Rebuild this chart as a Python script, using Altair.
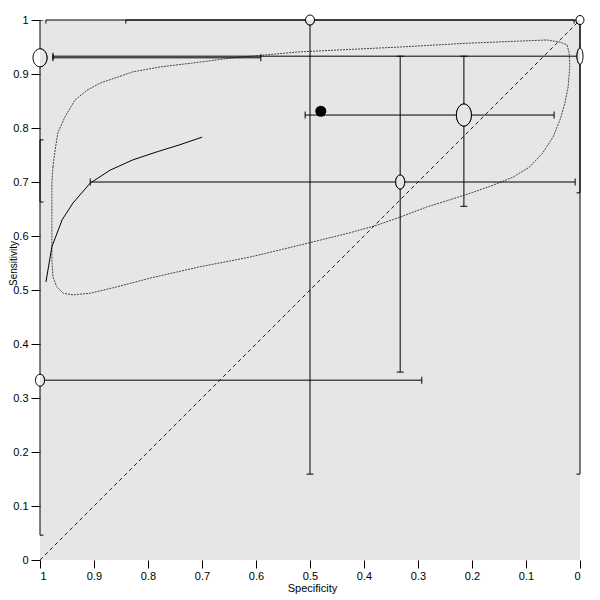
import altair as alt
import pandas as pd

# ---- individual studies (specificity, sensitivity, 95% CIs) ----
study_spec = [1.0, 0.5, 0.0, 0.0, 0.215, 0.333, 1.0]
study_sens = [0.930, 1.0, 1.0, 0.933, 0.824, 0.700, 0.333]
spec_lo = [0.591, 0.011, 0.0, 0.0, 0.048, 0.009, 0.293]
spec_hi = [0.976, 0.989, 0.841, 0.976, 0.509, 0.907, 1.0]
sens_lo = [0.663, 0.159, 0.159, 0.680, 0.655, 0.348, 0.046]
sens_hi = [1.0, 1.0, 1.0, 1.0, 0.933, 0.933, 0.778]
# marker (ellipse) width / height in px, proportional to study size
marker_w = [14, 9, 8, 6, 15, 9, 9]
marker_h = [18, 10, 9, 16, 22, 14, 12]

# ---- summary point ----
sum_spec = [0.480]
sum_sens = [0.831]

# ---- SROC curve ----
sroc_spec = [0.989, 0.978, 0.959, 0.939, 0.907, 0.870, 0.828, 0.783, 0.741, 0.700]
sroc_sens = [0.515, 0.580, 0.630, 0.661, 0.698, 0.722, 0.741, 0.756, 0.769, 0.783]

# ---- confidence region contour ----
ctr_spec = [0.976, 0.972, 0.967, 0.954, 0.935, 0.913, 0.889, 0.857, 0.828, 0.778,
            0.704, 0.643, 0.519, 0.333, 0.209, 0.061, 0.037, 0.024, 0.020, 0.019,
            0.022, 0.028, 0.037, 0.050, 0.069, 0.093, 0.124, 0.161, 0.198, 0.241,
            0.283, 0.333, 0.376, 0.426, 0.519, 0.611, 0.704, 0.796, 0.857, 0.907,
            0.939, 0.957, 0.969, 0.976, 0.978, 0.978, 0.978, 0.976]
ctr_sens = [0.728, 0.759, 0.791, 0.820, 0.852, 0.870, 0.883, 0.894, 0.904, 0.913,
            0.922, 0.930, 0.941, 0.950, 0.957, 0.963, 0.959, 0.954, 0.939, 0.913,
            0.876, 0.846, 0.815, 0.783, 0.754, 0.728, 0.709, 0.694, 0.681, 0.667,
            0.654, 0.635, 0.620, 0.606, 0.583, 0.561, 0.543, 0.522, 0.506, 0.494,
            0.491, 0.494, 0.506, 0.524, 0.556, 0.635, 0.698, 0.728]

# ---- diagonal ----
diag_spec = [1.0, 0.0]
diag_sens = [0.0, 1.0]

tick_vals = [0, 0.1, 0.2, 0.3, 0.4, 0.5, 0.6, 0.7, 0.8, 0.9, 1]

BG = "#e6e6e6"
FONT = "Liberation Sans"

def ellipse_path(w, h):
    m = max(w, h)
    rx, ry = w / m, h / m
    return (f"M {-rx:.3f},0 A {rx:.3f},{ry:.3f} 0 1,1 {rx:.3f},0 "
            f"A {rx:.3f},{ry:.3f} 0 1,1 {-rx:.3f},0 Z")

studies = pd.DataFrame({
    "spec": study_spec, "sens": study_sens,
    "spec_lo": spec_lo, "spec_hi": spec_hi,
    "sens_lo": sens_lo, "sens_hi": sens_hi,
    "path": [ellipse_path(w, h) for w, h in zip(marker_w, marker_h)],
    "msize": [max(w, h) ** 2 for w, h in zip(marker_w, marker_h)],
})

vcaps = pd.DataFrame({
    "spec": spec_lo + spec_hi,
    "sens": study_sens + study_sens,
})
hcaps = pd.DataFrame({
    "spec": study_spec + study_spec,
    "sens": sens_lo + sens_hi,
})

sroc = pd.DataFrame({"spec": sroc_spec, "sens": sroc_sens, "i": range(len(sroc_spec))})
ctr = pd.DataFrame({"spec": ctr_spec, "sens": ctr_sens, "i": range(len(ctr_spec))})
diag = pd.DataFrame({"spec": diag_spec, "sens": diag_sens})
summ = pd.DataFrame({"spec": sum_spec, "sens": sum_sens})

X = alt.X("spec:Q",
          scale=alt.Scale(domain=[0, 1], reverse=True, nice=False, zero=False),
          axis=alt.Axis(values=tick_vals, format="~g", title="Specificity",
                        tickSize=8, labelPadding=2, titleFontSize=11,
                        titleX=272, titleY=31, titleBaseline="alphabetic",
                        titleAlign="center"))
Y = alt.Y("sens:Q",
          scale=alt.Scale(domain=[0, 1], nice=False, zero=False),
          axis=alt.Axis(values=tick_vals, format="~g", title="Sensitivity",
                        tickSize=9, labelPadding=3, titleFontSize=10,
                        titleX=-24, titleY=243, titleAngle=270,
                        titleBaseline="alphabetic", titleAlign="center"))

diag_layer = alt.Chart(diag).mark_line(color="#222222", strokeWidth=1,
                                       strokeDash=[4, 3]).encode(x=X, y=Y)
ctr_layer = alt.Chart(ctr).mark_line(color="#444444", strokeWidth=1,
                                     strokeDash=[2, 1]).encode(
    x="spec:Q", y="sens:Q", order="i:Q")
sroc_layer = alt.Chart(sroc).mark_line(color="black", strokeWidth=1).encode(
    x="spec:Q", y="sens:Q", order="i:Q")

hci = alt.Chart(studies).mark_rule(color="black", strokeWidth=1).encode(
    x="spec_lo:Q", x2="spec_hi:Q", y="sens:Q")
vci = alt.Chart(studies).mark_rule(color="black", strokeWidth=1).encode(
    x="spec:Q", y="sens_lo:Q", y2="sens_hi:Q")
vcap_layer = alt.Chart(vcaps).mark_tick(orient="vertical", size=7, thickness=1,
                                        color="black", clip=True, opacity=1).encode(
    x="spec:Q", y="sens:Q")
hcap_layer = alt.Chart(hcaps).mark_tick(orient="horizontal", size=7, thickness=1,
                                        color="black", clip=True, opacity=1).encode(
    x="spec:Q", y="sens:Q")

ell_outer = alt.Chart(studies).mark_point(
    filled=False, fill="white", fillOpacity=1, stroke="black", strokeWidth=1,
    opacity=1).encode(
    x="spec:Q", y="sens:Q",
    shape=alt.Shape("path:N", scale=None, legend=None),
    size=alt.Size("msize:Q", scale=None, legend=None))
ell_inner = alt.Chart(studies).mark_point(
    filled=False, fill=BG, fillOpacity=1, stroke="black", strokeWidth=1,
    opacity=1, clip=True).encode(
    x="spec:Q", y="sens:Q",
    shape=alt.Shape("path:N", scale=None, legend=None),
    size=alt.Size("msize:Q", scale=None, legend=None))

summ_layer = alt.Chart(summ).mark_point(
    filled=True, shape="circle", size=121, color="black", opacity=1).encode(
    x="spec:Q", y="sens:Q")

chart = alt.layer(
    diag_layer, ctr_layer, sroc_layer, hci, vci, vcap_layer, hcap_layer,
    ell_outer, ell_inner, summ_layer
).properties(
    width=540, height=540,
    autosize=alt.AutoSizeParams(type="none"),
    padding={"left": 32, "top": 12, "right": 10, "bottom": 40},
    background="white",
).configure_view(
    fill=BG, stroke=None
).configure_axis(
    domain=False, grid=False,
    tickColor="black", tickWidth=1,
    labelColor="black", labelFont=FONT, labelFontSize=11,
    titleColor="black", titleFont=FONT, titleFontWeight="normal",
)

chart.save("out.html", embed_options={"renderer": "svg", "actions": False})
